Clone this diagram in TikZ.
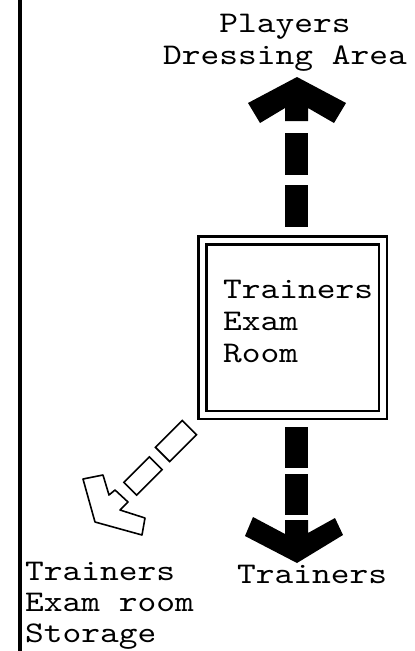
\documentclass[tikz,border=0pt]{standalone}
\usepackage{fontspec}
\newfontfamily\signfont{lmmono10-regular.otf}[FakeStretch=1.19]
\usetikzlibrary{positioning, calc}

\begin{document}
\begin{tikzpicture}[
        x=1pt, y=-1pt,
        % typewriter lettering of the plan
        signtext/.style={font=\signfont\fontsize{30pt}{32pt}\selectfont, inner sep=0pt, align=left},
        room/.style={draw, double, line width=2.6pt, double distance=5.4pt,
            minimum width=180.6pt, minimum height=174.6pt, inner sep=0pt},
        fatdash/.style={line width=23pt},
        fathead/.style={fill=black},
        storebox/.style={draw, line width=1.6pt, inner sep=0pt, rotate=45},
        storehead/.style={draw, line width=1.6pt, line join=round}
    ]
    \useasboundingbox (0,0) rectangle (415,651);

    % --- Wall ---
    \coordinate (walltop) at (20,0);
    \coordinate (wallfoot) at (20,651);
    \draw[line width=3.5pt] (walltop) -- (wallfoot);

    % --- Room and labels (base = last line) ---
    \node[room] (room) at (292.5,327.5) {};
    \node[signtext, anchor=base west] (roomname) at (223,362) {Trainers\\Exam\\Room};
    \node[signtext, anchor=base, align=center] (players) at (285,64) {Players\\Dressing Area};
    \node[signtext, anchor=base west] (trainers) at (237,583) {Trainers};
    \node[signtext, anchor=base west, font=\signfont\fontsize{30pt}{31pt}\selectfont] (storage) at (25,642)
        {Trainers\\Exam room\\Storage};

    % --- Way up to the dressing area ---
    \coordinate (upstem) at (296.5,124);
    \draw[fatdash, shorten <=12pt, dash pattern=on 42pt off 10pt] (upstem |- room.north) -- (upstem);
    \fill[fathead] (297,77) -- (346,103) -- (334,123) -- (308,108) -- (308,121)
        -- (285,121) -- (285,108) -- (260,123) -- (248,103) -- cycle;

    % --- Way down to the trainers ---
    \coordinate (downstem) at (296.5,520);
    \draw[fatdash, shorten <=11pt, dash pattern=on 41pt off 6pt] (downstem |- room.south) -- (downstem);
    \fill[fathead] (285,520) -- (308,520) -- (308,533) -- (335,518) -- (343,535)
        -- (297,563) -- (245,536) -- (253,517) -- (285,534) -- cycle;

    % --- Way to the storage (outlined) ---
    \node[storebox, minimum width=38pt, minimum height=20pt] (store1) at (176,441) {};
    \node[storebox, minimum width=36pt, minimum height=18pt] (store2) at (143,476) {};
    \draw[storehead] (83,479) -- (103,475) -- (109,495) -- (115,490) -- (128,502)
        -- (120,510) -- (145,518) -- (142,535) -- (95,522) -- cycle;

\end{tikzpicture}
\end{document}
